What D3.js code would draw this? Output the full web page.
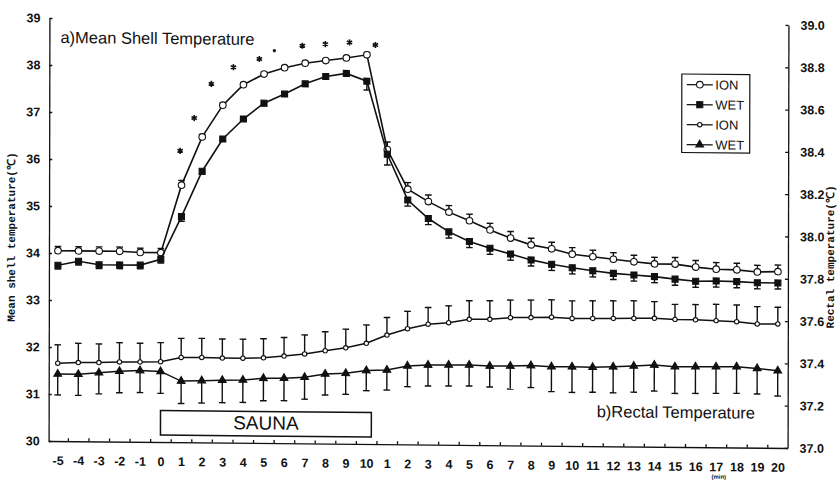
<!DOCTYPE html>
<html><head><meta charset="utf-8">
<script src="https://cdn.jsdelivr.net/npm/d3@7"></script>
<style>
html,body{margin:0;padding:0;background:#fff;}
svg{display:block;}
text{font-family:"Liberation Sans",Arial,sans-serif;fill:#111;}
</style></head>
<body>
<svg id="chart" width="840" height="480"></svg>
<script>
// ---- data ----
const xLabels = ["-5","-4","-3","-2","-1","0","1","2","3","4","5","6","7","8","9","10",
  "1","2","3","4","5","6","7","8","9","10","11","12","13","14","15","16","17","18","19","20"];

const shellION = [34.05,34.05,34.05,34.05,34.03,34.03,
  35.47,36.50,37.18,37.62,37.85,37.99,38.09,38.15,38.21,38.28,
  36.27,35.43,35.17,34.95,34.77,34.58,34.41,34.27,34.19,34.08,34.03,33.98,33.93,33.89,33.89,33.83,33.79,33.78,33.74,33.75];
const shellIONse = [0.09,0.09,0.09,0.09,0.09,0.09,
  0.10,0.05,0.04,0.04,0.04,0.04,0.04,0.04,0.04,0.05,
  0.16,0.14,0.14,0.14,0.14,0.14,0.14,0.14,0.14,0.14,0.14,0.14,0.14,0.14,0.14,0.14,0.14,0.14,0.14,0.14];

const shellWET = [33.74,33.83,33.76,33.76,33.76,33.89,
  34.80,35.77,36.46,36.89,37.23,37.43,37.65,37.81,37.88,37.72,
  36.17,35.20,34.81,34.53,34.33,34.19,34.07,33.95,33.86,33.79,33.73,33.68,33.65,33.62,33.57,33.53,33.54,33.53,33.51,33.51];
const shellWETse = [0.08,0.08,0.08,0.08,0.08,0.08,
  0.10,0.06,0.05,0.05,0.05,0.05,0.05,0.05,0.05,0.19,
  0.23,0.13,0.13,0.13,0.13,0.13,0.13,0.13,0.13,0.13,0.13,0.13,0.13,0.13,0.13,0.13,0.13,0.13,0.13,0.13];

const rectION = [37.368,37.372,37.373,37.377,37.378,37.380,
  37.401,37.402,37.400,37.400,37.403,37.412,37.423,37.439,37.454,37.476,
  37.516,37.547,37.569,37.577,37.594,37.595,37.604,37.605,37.608,37.603,37.604,37.605,37.606,37.607,37.603,37.602,37.599,37.595,37.585,37.586];
const rectIONse = [0.087,0.091,0.088,0.091,0.088,0.090,
  0.090,0.090,0.090,0.090,0.090,0.088,0.090,0.090,0.088,0.087,
  0.083,0.082,0.079,0.080,0.088,0.088,0.083,0.083,0.082,0.083,0.083,0.083,0.083,0.079,0.071,0.072,0.077,0.079,0.082,0.079];

const rectWET = [37.317,37.317,37.325,37.333,37.337,37.334,
  37.289,37.292,37.295,37.297,37.306,37.307,37.313,37.329,37.333,37.347,
  37.351,37.371,37.376,37.377,37.378,37.374,37.375,37.378,37.374,37.374,37.373,37.376,37.381,37.386,37.379,37.380,37.381,37.382,37.375,37.365];
const rectWETse = [0.099,0.100,0.100,0.102,0.104,0.104,
  0.106,0.106,0.106,0.106,0.106,0.106,0.104,0.099,0.099,0.095,
  0.095,0.098,0.099,0.099,0.099,0.099,0.109,0.104,0.118,0.121,0.118,0.123,0.124,0.123,0.126,0.126,0.126,0.126,0.121,0.120];

// significance asterisks: fractional x index, temperature (left scale), relative size
const starIdx = [5.93,6.61,7.44,8.51,9.77,10.5,11.86,12.98,14.15,15.41];
const starVal = [36.20,36.90,37.63,37.99,38.17,38.35,38.46,38.50,38.54,38.49];
const starSize = [1,1,1,1,1,0.25,1,1,1,1];

const leftTicks = [30,31,32,33,34,35,36,37,38,39];
const rightTicks = [37.0,37.2,37.4,37.6,37.8,38.0,38.2,38.4,38.6,38.8,39.0];
const saunaSpan = [5, 15.25];     // x-index span of sauna box
const saunaBand = [30.15, 30.67]; // left-scale span of sauna box

const legendItems = [
  {label:"ION", sym:"bigCircle"},
  {label:"WET", sym:"square"},
  {label:"ION", sym:"smallCircle"},
  {label:"WET", sym:"triangle"}
];

// ---- layout ----
const L = 49, R = 788, T = 21.5, B = 444.5;
const idx = d3.range(xLabels.length);
const x = d3.scaleLinear().domain([-0.4375, 35.487]).range([L, R]);
const yL = d3.scaleLinear().domain([30, 39]).range([B, T]);
const yR = d3.scaleLinear().domain([37, 39]).range([B, T]);

const svg = d3.select("#chart");
// the scanned figure is slightly skewed
const g = svg.append("g").attr("transform","matrix(1,0.0095,-0.002,1,0.48,-3.99)");

const symGen = {
  bigCircle: d3.symbol().type(d3.symbolCircle).size(34),
  square: d3.symbol().type(d3.symbolSquare).size(36),
  smallCircle: d3.symbol().type(d3.symbolCircle).size(15),
  triangle: d3.symbol().type(d3.symbolTriangle).size(26)
};
const symFill = {bigCircle:"#fff", square:"#111", smallCircle:"#fff", triangle:"#111"};

// axes
const tickFont = g => g.selectAll("text").attr("font-size", 12.5).attr("font-weight","bold").attr("fill","#111");

const axL = g.append("g").attr("transform",`translate(${L},0)`)
  .call(d3.axisLeft(yL).tickValues(leftTicks).tickFormat(d3.format("d")).tickSizeInner(-3).tickSizeOuter(0).tickPadding(9));
axL.call(tickFont);
const axR = g.append("g").attr("transform",`translate(${R},0)`)
  .call(d3.axisRight(yR).tickValues(rightTicks).tickFormat(d3.format(".1f")).tickSizeInner(-3).tickSizeOuter(0).tickPadding(12));
axR.call(tickFont);
const mids = idx.slice(0, -1).map(i => i + 0.5);
g.append("g").attr("transform",`translate(0,${B})`)
  .call(d3.axisBottom(x).tickValues(mids).tickFormat("").tickSizeInner(-3).tickSizeOuter(0));
const axB = g.append("g").attr("transform",`translate(0,${B})`)
  .call(d3.axisBottom(x).tickValues(idx).tickFormat(i => xLabels[i]).tickSize(0).tickPadding(15));
axB.select(".domain").remove();
axB.call(tickFont);
g.selectAll(".domain, .tick line").attr("stroke","#111").attr("stroke-width",1.3);

// (min)
g.append("text").attr("x", x(32) + 3).attr("y", B + 31.5)
  .attr("font-size", 6).attr("font-weight","bold").attr("text-anchor","middle").text("(min)");

// axis titles
g.append("text").attr("transform",`translate(15,${(T+B)/2 + 8}) rotate(-90)`)
  .attr("text-anchor","middle").attr("font-size",11).attr("font-weight","bold")
  .style("font-family","'Liberation Mono','DejaVu Sans Mono',monospace")
  .text("Mean shell temperature(℃)");
g.append("text").attr("transform",`translate(834,${(T+B)/2 + 20}) rotate(-90)`)
  .attr("text-anchor","middle").attr("font-size",11).attr("font-weight","bold")
  .style("font-family","'Liberation Mono','DejaVu Sans Mono',monospace")
  .text("Rectal temperature(℃)");

// panel titles
g.append("text").attr("x", 60).attr("y", 46.5).attr("font-size",16.5).text("a)Mean Shell Temperature");
g.append("text").attr("x", 597).attr("y", 415.5).attr("font-size",16.5).text("b)Rectal Temperature");

// sauna box
g.append("rect").attr("x", x(saunaSpan[0])).attr("y", yL(saunaBand[1]))
  .attr("width", x(saunaSpan[1]) - x(saunaSpan[0])).attr("height", yL(saunaBand[0]) - yL(saunaBand[1]))
  .attr("fill","none").attr("stroke","#111").attr("stroke-width",1.5);
g.append("text").attr("x", (x(saunaSpan[0]) + x(saunaSpan[1]))/2).attr("y", yL(saunaBand[0]) - 6.5)
  .attr("text-anchor","middle").attr("font-size",19).text("SAUNA");

// series
const series = [
  {vals: shellION, se: shellIONse, y: yL, dir: -1, sym: "bigCircle", w: 1.6},
  {vals: shellWET, se: shellWETse, y: yL, dir: 1, sym: "square", w: 1.6},
  {vals: rectION, se: rectIONse, y: yR, dir: -1, sym: "smallCircle", w: 1.5},
  {vals: rectWET, se: rectWETse, y: yR, dir: 1, sym: "triangle", w: 1.5}
];

series.forEach(s => {
  const eb = g.append("g").attr("stroke","#111").attr("stroke-width",1.4);
  idx.forEach(i => {
    const y0 = s.y(s.vals[i]);
    const y1 = s.y(s.vals[i] - s.dir * s.se[i]);
    eb.append("line").attr("x1", x(i)).attr("x2", x(i)).attr("y1", y0).attr("y2", y1);
    eb.append("line").attr("x1", x(i) - 3.3).attr("x2", x(i) + 3.3).attr("y1", y1).attr("y2", y1);
  });
  g.append("path").datum(idx)
    .attr("d", d3.line().x(i => x(i)).y(i => s.y(s.vals[i])))
    .attr("fill","none").attr("stroke","#111").attr("stroke-width", s.w);
  g.append("g").selectAll("path").data(idx).join("path")
    .attr("transform", i => `translate(${x(i)},${s.y(s.vals[i])})`)
    .attr("d", symGen[s.sym]())
    .attr("fill", symFill[s.sym]).attr("stroke","#111").attr("stroke-width",1.1);
});

// asterisks
g.append("g").selectAll("path").data(starIdx).join("path")
  .attr("transform", (d,i) => `translate(${x(d)},${yL(starVal[i])})`)
  .attr("d", (d,i) => d3.symbol().type(d3.symbolAsterisk).size(26 * starSize[i])())
  .attr("fill","none").attr("stroke","#111").attr("stroke-width",1.6);

// legend
const lg = g.append("g").attr("transform","translate(681.5,71.5)");
lg.append("rect").attr("width",68).attr("height",78.5).attr("fill","#fff").attr("stroke","#111").attr("stroke-width",1.2);
legendItems.forEach((d,i) => {
  const yy = 10.5 + i*20;
  lg.append("line").attr("x1",5).attr("x2",31).attr("y1",yy).attr("y2",yy).attr("stroke","#111").attr("stroke-width",1.3);
  lg.append("path").attr("transform",`translate(18,${yy})`)
    .attr("d", symGen[d.sym]()).attr("fill",symFill[d.sym]).attr("stroke","#111").attr("stroke-width",1.1);
  lg.append("text").attr("x",33.5).attr("y",yy+4.7).attr("font-size",13).text(d.label);
});
</script>
</body></html>
